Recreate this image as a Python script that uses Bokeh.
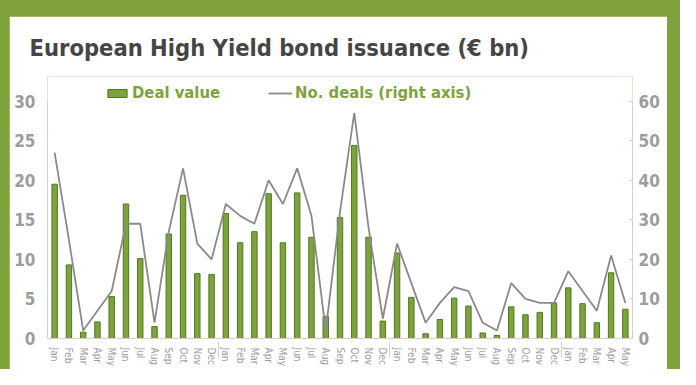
from bokeh.plotting import figure
from bokeh.models import (FactorRange, Range1d, LinearAxis, Legend, LegendItem,
                          FixedTicker, ColumnDataSource, Spacer)
from bokeh.layouts import column, row
from bokeh.embed import file_html
from bokeh.resources import INLINE

# ---------------- data ----------------
years = ["2012", "2013", "2014", "2015"]
months_full = ["Jan", "Feb", "Mar", "Apr", "May", "Jun",
               "Jul", "Aug", "Sep", "Oct", "Nov", "Dec"]
months_last = ["Jan", "Feb", "Mar", "Apr", "May"]

deal_value_y1 = [19.5, 9.3, 0.8, 2.1, 5.3, 17.0, 10.1, 1.5, 13.2, 18.1, 8.2, 8.1]
deal_value_y2 = [15.8, 12.1, 13.5, 18.3, 12.1, 18.4, 12.8, 2.8, 15.3, 24.4, 12.8, 2.2]
deal_value_y3 = [10.8, 5.2, 0.6, 2.4, 5.1, 4.1, 0.7, 0.4, 4.0, 3.0, 3.3, 4.5]
deal_value_y4 = [6.4, 4.4, 2.0, 8.3, 3.7]

deals_y1 = [47, 25, 2, 7, 12, 29, 29, 4, 27, 43, 24, 20]
deals_y2 = [34, 31, 29, 40, 34, 43, 31, 2, 32, 57, 28, 5]
deals_y3 = [24, 14, 4, 9, 13, 12, 4, 2, 14, 10, 9, 9]
deals_y4 = [17, 12, 7, 21, 9]

left_ticks = [0, 5, 10, 15, 20, 25, 30]
right_ticks = [0, 10, 20, 30, 40, 50, 60]

# ---------------- build ----------------
month_lists = [months_full, months_full, months_full, months_last]
factors = [(y, m) for y, ms in zip(years, month_lists) for m in ms]
values = deal_value_y1 + deal_value_y2 + deal_value_y3 + deal_value_y4
deals = deals_y1 + deals_y2 + deals_y3 + deals_y4

src = ColumnDataSource(dict(x=factors, value=values, deals=deals))

GREEN_FRAME = "#80a23c"
BAR_FILL = "#7ea33c"
BAR_LINE = "#4b7a1f"
GRAY_TXT = "#9d9d9d"
AXIS_COL = "#d0d0d0"
FONT = "DejaVu Sans Condensed, Roboto, sans-serif"

LEFT_MAX = left_ticks[-1]
RIGHT_MAX = right_ticks[-1]
HEADROOM = 1.1037  # room above the axes for the legend

FIG_W, FIG_H = 658, 353

p = figure(x_range=FactorRange(*factors, group_padding=0, factor_padding=0, range_padding=0),
           y_range=Range1d(0, LEFT_MAX * HEADROOM),
           width=FIG_W, height=FIG_H, output_backend="svg", toolbar_location=None,
           min_border_left=38, min_border_right=35, min_border_top=60, min_border_bottom=31,
           background_fill_color="white", border_fill_color="white",
           outline_line_color=None)
p.extra_y_ranges = {"deals": Range1d(0, RIGHT_MAX * HEADROOM)}

bars = p.vbar(x="x", top="value", width=0.38, source=src,
              fill_color=BAR_FILL, line_color=BAR_LINE, line_width=1)
line = p.line(x="x", y="deals", source=src, y_range_name="deals",
              line_color="#8a8a8a", line_width=1.8)

p.xgrid.grid_line_color = None
p.ygrid.grid_line_color = None

# title
p.title.text = "European High Yield bond issuance (€ bn)"
p.title.text_font = FONT
p.title.text_font_size = "23.5px"
p.title.text_font_style = "bold"
p.title.text_color = "#454545"
p.title.align = "left"
p.title.offset = -18
p.title.standoff = 29

# left axis
ya = p.yaxis[0]
ya.ticker = FixedTicker(ticks=left_ticks)
ya.bounds = (0, LEFT_MAX)
ya.axis_line_color = AXIS_COL
ya.major_tick_line_color = None
ya.minor_tick_line_color = None
ya.major_label_text_font = FONT
ya.major_label_text_font_size = "17px"
ya.major_label_text_font_style = "bold"
ya.major_label_text_color = GRAY_TXT
ya.major_label_standoff = 6

# right axis
ra = LinearAxis(y_range_name="deals", ticker=FixedTicker(ticks=right_ticks))
ra.bounds = (0, RIGHT_MAX)
ra.axis_line_color = AXIS_COL
ra.major_tick_line_color = AXIS_COL
ra.major_tick_in = 3
ra.major_tick_out = 0
ra.minor_tick_line_color = None
ra.major_label_text_font = FONT
ra.major_label_text_font_size = "17px"
ra.major_label_text_font_style = "bold"
ra.major_label_text_color = GRAY_TXT
ra.major_label_standoff = 6
p.add_layout(ra, "right")

# x axis
xa = p.xaxis[0]
xa.axis_line_color = AXIS_COL
xa.major_tick_line_color = None
xa.major_label_orientation = "vertical"
xa.major_label_text_font = FONT
xa.major_label_text_font_size = "10px"
xa.major_label_text_color = GRAY_TXT
xa.major_label_standoff = 3
xa.group_text_font_size = "1px"
xa.group_text_color = None
xa.separator_line_color = AXIS_COL
xa.separator_line_width = 1

# legend (top of the frame, above the axes' range)
legend = Legend(items=[LegendItem(label="Deal value", renderers=[bars]),
                       LegendItem(label="No. deals (right axis)", renderers=[line])],
                orientation="horizontal", location=(58, 236))
legend.label_text_font = FONT
legend.label_text_font_size = "16.5px"
legend.label_text_font_style = "bold"
legend.label_text_color = BAR_FILL
legend.glyph_width = 24
legend.glyph_height = 10
legend.label_standoff = 3
legend.spacing = 48
legend.padding = 0
legend.margin = 0
legend.border_line_color = None
legend.background_fill_alpha = 0
p.add_layout(legend, "center")

page = column(Spacer(width=680, height=16),
              row(Spacer(width=9, height=FIG_H), p, Spacer(width=13, height=FIG_H)),
              width=680, height=369, styles={"background-color": GREEN_FRAME})

open("out.html", "w").write(file_html(page, INLINE))
